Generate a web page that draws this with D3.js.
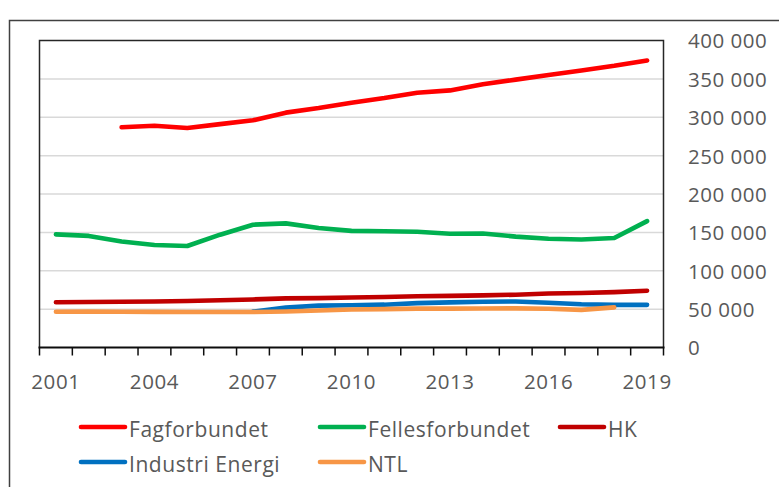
<!DOCTYPE html>
<html>
<head>
<meta charset="utf-8">
<script src="https://cdn.jsdelivr.net/npm/d3@7"></script>
<style>
  html, body { margin: 0; padding: 0; background: #fff; }
  svg { display: block; }
  text { font-family: "Open Sans", "Noto Sans", sans-serif; fill: #595959; }
</style>
</head>
<body>
<svg id="chart" width="779" height="487"></svg>
<script>
const years = ["2001","2002","2003","2004","2005","2006","2007","2008","2009","2010","2011","2012","2013","2014","2015","2016","2017","2018","2019"];
const tickLabels = ["2001","2004","2007","2010","2013","2016","2019"];
const yTicks = [0, 50000, 100000, 150000, 200000, 250000, 300000, 350000, 400000];

const fagforbundet = [null, null, 287000, 289000, 286000, 291000, 296000, 306000, 312000, 319000, 325000, 332000, 335000, 343000, 349000, 355000, 361000, 367000, 374000];
const fellesforbundet = [147400, 145400, 138200, 133600, 132200, 147000, 160000, 161700, 155600, 152000, 151400, 150900, 148200, 148600, 144500, 141600, 140800, 142600, 164700];
const hk = [59000, 59300, 59600, 60000, 60500, 61500, 62600, 64000, 64300, 65200, 65800, 66700, 67200, 67900, 68800, 70400, 71000, 72200, 73900];
const industriEnergi = [null, null, null, null, null, null, 46800, 52000, 54500, 55000, 55800, 57800, 58800, 59700, 60000, 58400, 56300, 55600, 55600];
const ntl = [46600, 46700, 46500, 46400, 46200, 46200, 46300, 47000, 48300, 49500, 50000, 50600, 50700, 50800, 51000, 50400, 49000, 52300, null];

const seriesNames = ["Fagforbundet", "Fellesforbundet", "HK", "Industri Energi", "NTL"];
const seriesValues = [fagforbundet, fellesforbundet, hk, industriEnergi, ntl];
const seriesColors = ["#FF0000", "#00B050", "#C00000", "#0070C0", "#F79646"];

const svg = d3.select("#chart");
const pLeft = 39.5, pRight = 663.5, pTop = 40.5, pBottom = 347.5;

// outer chart frame
svg.append("rect").attr("x", 9.5).attr("y", 20.5).attr("width", 820).attr("height", 520)
  .attr("fill", "none").attr("stroke", "#404040").attr("stroke-width", 1.5);

const x = d3.scaleBand().domain(years).range([pLeft, pRight]);
const y = d3.scaleLinear().domain([0, 400000]).range([pBottom, pTop]);

// gridlines
svg.append("g").selectAll("line").data(yTicks.slice(1, -1)).join("line")
  .attr("x1", pLeft).attr("x2", pRight)
  .attr("y1", d => y(d)).attr("y2", d => y(d))
  .attr("stroke", "#D9D9D9").attr("stroke-width", 1.5);

// plot border (top, left, right)
svg.append("path")
  .attr("d", `M${pLeft},${pBottom}V${pTop}H${pRight}V${pBottom}`)
  .attr("fill", "none").attr("stroke", "#262626").attr("stroke-width", 1.5);

// right axis labels
const yAxis = d3.axisRight(y).tickValues(yTicks).tickSize(0).tickPadding(0)
  .tickFormat(d => d3.format(",")(d).replace(/,/g, " "));
const ya = svg.append("g").attr("transform", `translate(688,0)`).call(yAxis);
ya.select(".domain").remove();
ya.selectAll("text").attr("x", 0).attr("text-anchor", "start")
  .style("font-size", "20.5px").style("letter-spacing", "0.5px").attr("fill", "#595959")
  .style("font-family", "'Open Sans', sans-serif").attr("dy", "0.36em");

// bottom axis with ticks at category boundaries
const boundaries = d3.range(years.length + 1).map(i => pLeft + i * x.step());
const xa = svg.append("g");
xa.append("line").attr("x1", pLeft - 1).attr("x2", pRight + 1).attr("y1", pBottom).attr("y2", pBottom)
  .attr("stroke", "#0d0d0d").attr("stroke-width", 2.2);
xa.selectAll("line.tick").data(boundaries).join("line").attr("class", "tick")
  .attr("x1", d => d).attr("x2", d => d).attr("y1", pBottom).attr("y2", pBottom + 8)
  .attr("stroke", "#0d0d0d").attr("stroke-width", 1.5);
const xAxis = d3.axisBottom(x).tickValues(tickLabels).tickSize(0).tickPadding(0);
const xg = svg.append("g").attr("transform", `translate(0,${pBottom})`).call(xAxis);
xg.select(".domain").remove();
xg.selectAll("text").attr("y", 41.7).attr("dy", 0)
  .style("font-size", "20.5px").style("letter-spacing", "0.6px").attr("fill", "#595959")
  .style("font-family", "'Open Sans', sans-serif");

// lines
const line = d3.line()
  .defined(d => d.v !== null)
  .x(d => x(d.year) + x.bandwidth() / 2)
  .y(d => y(d.v));

seriesValues.forEach((vals, i) => {
  const data = years.map((yr, j) => ({ year: yr, v: vals[j] }));
  svg.append("path").datum(data)
    .attr("d", line)
    .attr("fill", "none")
    .attr("stroke", seriesColors[i])
    .attr("stroke-width", 4.6)
    .attr("stroke-linejoin", "round")
    .attr("stroke-linecap", "round");
});

// legend
const legendPos = [[81, 427], [320, 427], [560, 427], [81, 462], [320, 462]];
const lg = svg.append("g");
seriesNames.forEach((name, i) => {
  const [lx, ly] = legendPos[i];
  lg.append("line").attr("x1", lx).attr("x2", lx + 44).attr("y1", ly).attr("y2", ly)
    .attr("stroke", seriesColors[i]).attr("stroke-width", 4.6).attr("stroke-linecap", "round");
  lg.append("text").attr("x", lx + 48).attr("y", ly + 10)
    .style("font-size", "21px").style("letter-spacing", "0.55px")
    .text(name);
});
</script>
</body>
</html>
